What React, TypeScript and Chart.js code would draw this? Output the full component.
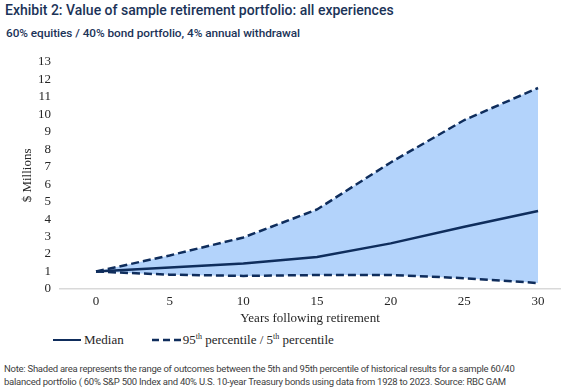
import React, { useEffect, useRef } from "react";
import { Chart, registerables } from "chart.js";

Chart.register(...registerables);

const years = [0, 5, 10, 15, 20, 25, 30];
const p95 = [1.0, 1.92, 2.95, 4.55, 7.24, 9.67, 11.5];
const median = [1.0, 1.23, 1.46, 1.83, 2.61, 3.56, 4.46];
const p5 = [1.0, 0.82, 0.75, 0.8, 0.8, 0.62, 0.34];
const yTicks = [0, 1, 2, 3, 4, 5, 6, 7, 8, 9, 10, 11, 12, 13];

const NAVY = "#0f2d5c";
const FILL = "#b3d3fb";

export default function App() {
  const ref = useRef<HTMLCanvasElement>(null);

  useEffect(() => {
    const ctx = ref.current!;
    const pts = (vals: number[]) => years.map((x, i) => ({ x, y: vals[i] }));
    const chart = new Chart(ctx, {
      type: "line",
      data: {
        datasets: [
          {
            label: "95th percentile",
            data: pts(p95),
            borderColor: NAVY,
            borderWidth: 2.5,
            borderDash: [8, 4],
            pointRadius: 0,
            fill: false,
            tension: 0,
          },
          {
            label: "Median",
            data: pts(median),
            borderColor: NAVY,
            borderWidth: 2.5,
            pointRadius: 0,
            fill: false,
            tension: 0,
          },
          {
            label: "5th percentile",
            data: pts(p5),
            borderColor: NAVY,
            borderWidth: 2.5,
            borderDash: [8, 4],
            pointRadius: 0,
            backgroundColor: FILL,
            fill: 0,
            tension: 0,
          },
        ],
      },
      options: {
        animation: false,
        responsive: false,
        maintainAspectRatio: false,
        layout: { padding: { top: 12, right: 7, bottom: 0, left: 0 } },
        plugins: { legend: { display: false }, tooltip: { enabled: false } },
        scales: {
          x: {
            type: "linear",
            min: -2.443,
            max: 31.49,
            afterBuildTicks: (s: any) => {
              s.ticks = years.map((v) => ({ value: v }));
            },
            afterFit: (s: any) => {
              s.height = 41;
            },
            grid: { display: false, drawTicks: false },
            border: { display: true, color: "#d9d9d9", width: 1.5 },
            ticks: {
              padding: 5,
              color: "#262626",
              font: { family: "Liberation Serif", size: 13 },
              maxRotation: 0,
              autoSkip: false,
            },
            title: {
              display: true,
              text: "Years following retirement",
              color: "#262626",
              font: { family: "Liberation Serif", size: 13 },
              padding: { top: 4, bottom: 4 },
            },
          },
          y: {
            type: "linear",
            min: 0,
            max: 13,
            afterBuildTicks: (s: any) => {
              s.ticks = yTicks.map((v) => ({ value: v }));
            },
            afterFit: (s: any) => {
              s.width = 60;
            },
            grid: { display: false, drawTicks: false },
            border: { display: false },
            ticks: {
              padding: 9,
              color: "#262626",
              font: { family: "Liberation Serif", size: 13 },
              autoSkip: false,
            },
            title: {
              display: true,
              text: "$ Millions",
              color: "#262626",
              font: { family: "Liberation Serif", size: 13 },
              padding: { top: 20, bottom: 0 },
            },
          },
        },
      },
    });
    return () => chart.destroy();
  }, []);

  const serif = "'Liberation Serif', serif";
  const sans = "Roboto, 'Noto Sans', sans-serif";

  return (
    <div
      style={{
        position: "absolute",
        left: 0,
        top: 0,
        width: 567,
        height: 391,
        background: "#fff",
        overflow: "hidden",
      }}
    >
      <div
        style={{
          position: "absolute",
          left: 5,
          top: 1,
          fontFamily: sans,
          fontSize: 14,
          fontWeight: 500,
          color: "#1b3358",
          whiteSpace: "nowrap",
          lineHeight: "18px",
        }}
      >
        Exhibit 2: Value of sample retirement portfolio: all experiences
      </div>
      <div
        style={{
          position: "absolute",
          left: 6,
          top: 25,
          fontFamily: sans,
          fontSize: 11.8,
          fontWeight: 500,
          letterSpacing: "-0.05px",
          color: "#1b3358",
          whiteSpace: "nowrap",
          lineHeight: "16px",
        }}
      >
        60% equities / 40% bond portfolio, 4% annual withdrawal
      </div>
      <canvas
        ref={ref}
        width={567}
        height={285}
        style={{ position: "absolute", left: 0, top: 45, width: 567, height: 285 }}
      />
      <div
        style={{
          position: "absolute",
          left: 53,
          top: 331,
          height: 18,
          display: "flex",
          alignItems: "center",
          fontFamily: serif,
          fontSize: 13,
          color: "#262626",
          whiteSpace: "nowrap",
        }}
      >
        <span style={{ display: "inline-block", width: 28, height: 2.5, background: NAVY, marginRight: 3 }} />
        <span style={{ marginRight: 28 }}>Median</span>
        <svg width={30} height={6} style={{ marginRight: 1 }}>
          <line x1={0} y1={3} x2={30} y2={3} stroke={NAVY} strokeWidth={2.5} strokeDasharray="7,4" />
        </svg>
        <span>
          95<sup style={{ fontSize: 8 }}>th</sup> percentile / 5<sup style={{ fontSize: 8 }}>th</sup> percentile
        </span>
      </div>
      <div
        style={{
          position: "absolute",
          left: 4,
          top: 362,
          fontFamily: sans,
          fontSize: 9.5,
          letterSpacing: "-0.25px",
          color: "#404040",
          lineHeight: "13px",
          whiteSpace: "nowrap",
        }}
      >
        Note: Shaded area represents the range of outcomes between the 5th and 95th percentile of historical results for a sample 60/40
        <br />
        balanced portfolio ( 60% S&amp;P 500 Index and 40% U.S. 10-year Treasury bonds using data from 1928 to 2023. Source: RBC GAM
      </div>
    </div>
  );
}
